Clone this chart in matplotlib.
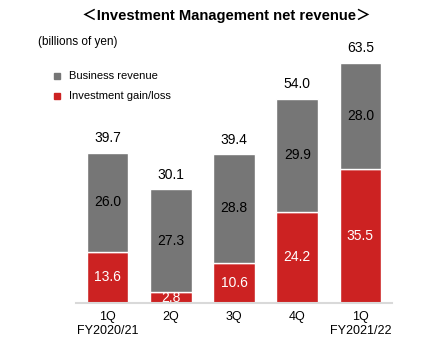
import numpy as np
from matplotlib import pyplot as plt

plt.rcParams['font.family'] = ['Liberation Sans', 'Noto Sans CJK JP', 'DejaVu Sans']

quarters = ['1Q\nFY2020/21', '2Q', '3Q', '4Q', '1Q\nFY2021/22']
investment = [13.6, 2.8, 10.6, 24.2, 35.5]
business = [26.0, 27.3, 28.8, 29.9, 28.0]
totals = [39.7, 30.1, 39.4, 54.0, 63.5]

gray = '#767676'
red = '#cc2222'

fig = plt.figure(figsize=(4.4, 3.59), dpi=100)
ax = fig.add_axes([76 / 440, 56 / 359, 316 / 440, 264.6 / 359])

x = np.arange(len(quarters))
w = 0.66
ax.bar(x, investment, w, color=red, edgecolor='white', linewidth=1.0)
ax.bar(x, business, w, bottom=investment, color=gray, edgecolor='white', linewidth=1.0)

for i in range(len(x)):
    ax.text(x[i], investment[i] / 2, '%.1f' % investment[i], ha='center', va='center',
            color='white', fontsize=10)
    ax.text(x[i], investment[i] + business[i] / 2, '%.1f' % business[i], ha='center',
            va='center', color='black', fontsize=10)
    ax.text(x[i], totals[i] + 2.0, '%.1f' % totals[i], ha='center', va='bottom',
            color='black', fontsize=10)

ax.set_xlim(-0.5, 4.5)
ax.set_ylim(0, 70)
ax.set_xticks(x)
ax.set_xticklabels(quarters, fontsize=9, linespacing=1.2)
ax.tick_params(axis='x', length=0, pad=6)
ax.set_yticks([])
for s in ['top', 'right', 'left']:
    ax.spines[s].set_visible(False)
ax.spines['bottom'].set_color('#d9d9d9')
ax.spines['bottom'].set_linewidth(1.5)

fig.text(226 / 440, 1 - 16 / 359, '＜Investment Management net revenue＞', ha='center',
         va='center', fontsize=10.6, fontweight='bold')
fig.text(38 / 440, 1 - 42 / 359, '(billions of yen)', ha='left', va='center', fontsize=8.5)

fig.patches.append(plt.Rectangle((54 / 440, 1 - 79 / 359), 6 / 440, 6 / 359,
                                 transform=fig.transFigure, color=gray))
fig.text(69 / 440, 1 - 76 / 359, 'Business revenue', ha='left', va='center', fontsize=8)
fig.patches.append(plt.Rectangle((54 / 440, 1 - 99 / 359), 6 / 440, 6 / 359,
                                 transform=fig.transFigure, color=red))
fig.text(69 / 440, 1 - 96 / 359, 'Investment gain/loss', ha='left', va='center', fontsize=8)

fig.savefig('out.png', dpi=100)
